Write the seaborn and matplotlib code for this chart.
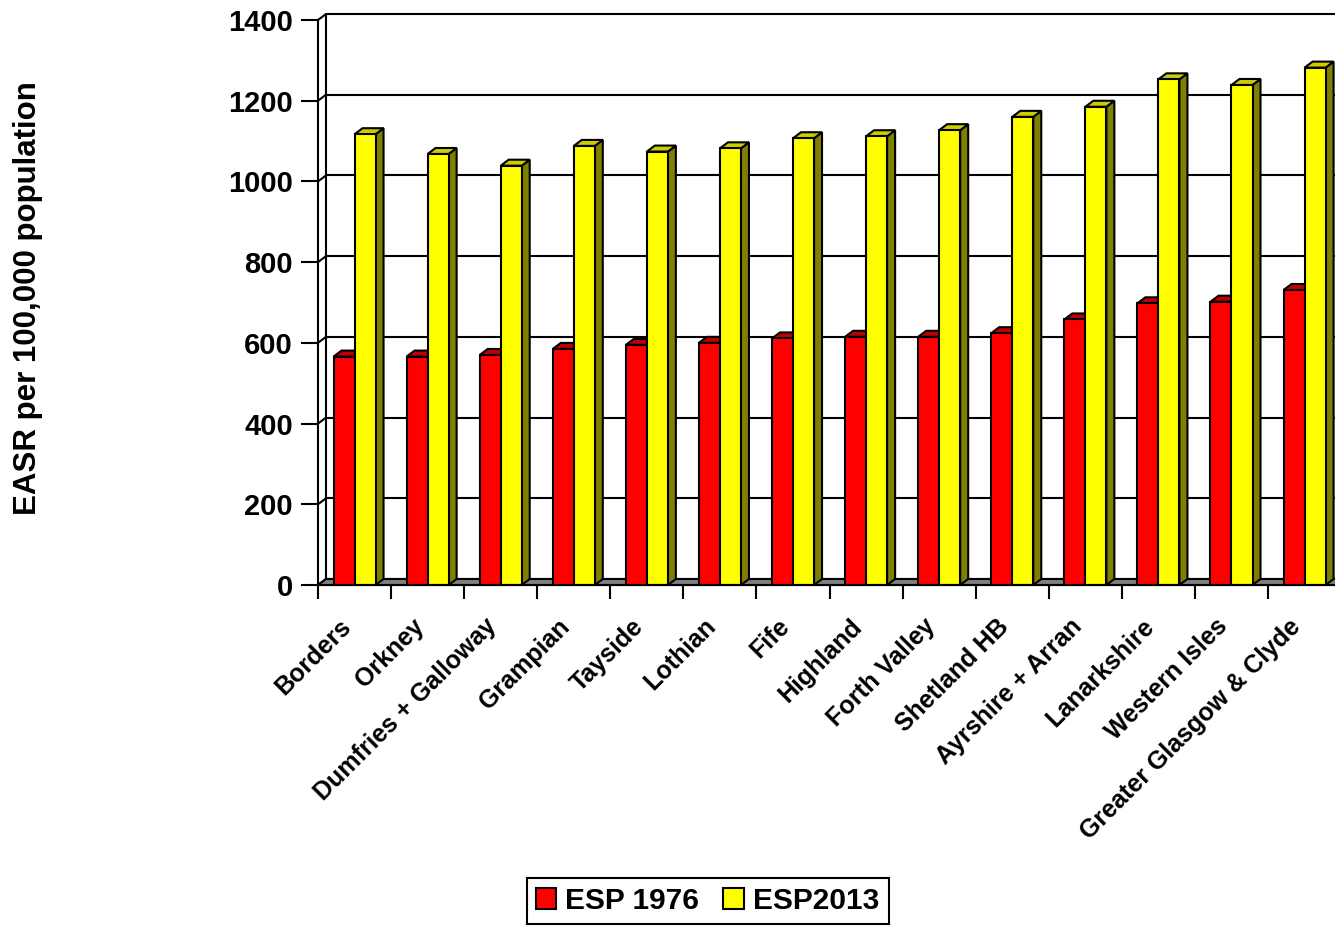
import matplotlib
matplotlib.use("Agg")
import matplotlib.pyplot as plt
import seaborn as sns
import pandas as pd
from matplotlib.patches import Polygon, Patch, Rectangle

# data
regions = ["Borders", "Orkney", "Dumfries + Galloway", "Grampian", "Tayside", "Lothian", "Fife",
           "Highland", "Forth Valley", "Shetland HB", "Ayrshire + Arran", "Lanarkshire",
           "Western Isles", "Greater Glasgow & Clyde"]
esp1976 = [566, 566, 570, 585, 595, 600, 611, 615, 615, 624, 658, 698, 702, 731]
esp2013 = [1117, 1068, 1039, 1088, 1074, 1082, 1107, 1112, 1127, 1160, 1185, 1253, 1239, 1282]
series_names = ["ESP 1976", "ESP2013"]
y_ticks = [0, 200, 400, 600, 800, 1000, 1200, 1400]

front_colors = {"ESP 1976": "#FF0000", "ESP2013": "#FFFF00"}
top_colors = {"ESP 1976": "#C00000", "ESP2013": "#CCCC00"}
side_colors = {"ESP 1976": "#800000", "ESP2013": "#808000"}

sns.set_style("white")
plt.rcParams['font.family'] = ['Liberation Sans', 'DejaVu Sans']
plt.rcParams['font.weight'] = 'bold'
plt.rcParams['text.color'] = 'black'
plt.rcParams['xtick.color'] = 'black'
plt.rcParams['ytick.color'] = 'black'

fig = plt.figure(figsize=(13.35, 9.27), dpi=100)
ax = fig.add_axes([318 / 1335, 342 / 927, 14 * 73.08 / 1335, 565 / 927])

df = pd.DataFrame({
    "region": regions * 2,
    "EASR": esp1976 + esp2013,
    "series": [series_names[0]] * len(regions) + [series_names[1]] * len(regions),
})

sns.barplot(data=df, x="region", y="EASR", hue="series", palette=front_colors,
            width=0.575, saturation=1, edgecolor="black", linewidth=1.5,
            legend=False, ax=ax)
bars = sorted([p for p in ax.patches if isinstance(p, Rectangle) and p.get_height() > 0],
              key=lambda r: r.get_x())

ax.set_xlim(-0.5, len(regions) - 0.5)
ax.set_ylim(0, 1400)

# depth of the fake 3D look, in data units
p0 = ax.transData.transform((0, 0))
p1 = ax.transData.transform((1, 100))
px_per_cat = p1[0] - p0[0]
dx = 8 / px_per_cat
dy = 6 / ((p1[1] - p0[1]) / 100)

# back wall gridlines and frame
x_left = -0.5
x_right = len(regions) - 0.5 + 1
for v in y_ticks:
    ax.plot([x_left + dx, x_right], [v + dy, v + dy], color="black", lw=1.5, zorder=0.5, clip_on=False)
    ax.plot([x_left, x_left + dx], [v, v + dy], color="black", lw=1.5, zorder=0.5, clip_on=False)
ax.plot([x_left + dx, x_left + dx], [dy, 1400 + dy], color="black", lw=1.5, zorder=0.5, clip_on=False)

# floor
ax.add_patch(Polygon([(x_left, 0), (x_right, 0), (x_right, dy), (x_left + dx, dy)],
                     closed=True, fc="#808080", ec="black", lw=1.5, zorder=0.6, clip_on=False))

# 3D faces for the bars
for i, bar in enumerate(bars):
    x0 = bar.get_x()
    x1 = x0 + bar.get_width()
    h = bar.get_height()
    fc = matplotlib.colors.to_hex(bar.get_facecolor())
    name = "ESP 1976" if fc.lower() == "#ff0000" else "ESP2013"
    z = 2 + 3 * i
    ax.add_patch(Polygon([(x1, 0), (x1 + dx, dy), (x1 + dx, h + dy), (x1, h)], closed=True,
                         fc=side_colors[name], ec="black", lw=1.5, zorder=z, clip_on=False))
    ax.add_patch(Polygon([(x0, h), (x1, h), (x1 + dx, h + dy), (x0 + dx, h + dy)], closed=True,
                         fc=top_colors[name], ec="black", lw=1.5, zorder=z + 1, clip_on=False))
    bar.set_zorder(z + 2)

# axes
sns.despine(ax=ax, top=True, right=True)
for s in ["left", "bottom"]:
    ax.spines[s].set_linewidth(1.5)
    ax.spines[s].set_color("black")
    ax.spines[s].set_zorder(100)

ax.set_yticks(y_ticks)
ax.tick_params(axis="y", length=12, width=1.5, color="black", labelsize=21, pad=6, direction="out", left=True)
for t in ax.get_yticklabels():
    t.set_fontweight("bold")
    t.set_color("black")

# labels sit a little left of the category centre
label_shift = 16 / px_per_cat
ax.set_xticks([i - label_shift for i in range(len(regions))])
ax.set_xticklabels(regions, rotation=45, ha="right", rotation_mode="anchor", fontsize=18, fontweight="bold")
for t in ax.get_xticklabels():
    t.set_color("black")
ax.set_xticks([i - 0.5 for i in range(len(regions) + 1)], minor=True)
ax.tick_params(axis="x", which="major", length=0, pad=21)
ax.tick_params(axis="x", which="minor", length=10, width=1.5, color="black", direction="out", bottom=True)

ax.set_xlabel("")
ax.set_ylabel("")
fig.text(0.021, 0.6786, "EASR per 100,000 population", rotation=90, ha="center", va="center",
         fontsize=22.5, fontweight="bold", color="black")

handles = [Patch(fc=front_colors[n], ec="black", lw=1.5) for n in series_names]
leg = fig.legend(handles=handles, labels=series_names, loc="center", bbox_to_anchor=(0.530, 0.028),
                 ncol=2, frameon=True, fancybox=False, edgecolor="black", framealpha=1,
                 prop={"size": 21.5, "weight": "bold"}, handlelength=0.7, handleheight=0.7,
                 columnspacing=0.8, handletextpad=0.3, borderpad=0.3)
leg.get_frame().set_linewidth(1.5)
for t in leg.get_texts():
    t.set_color("black")

fig.savefig("out.png", dpi=100)
